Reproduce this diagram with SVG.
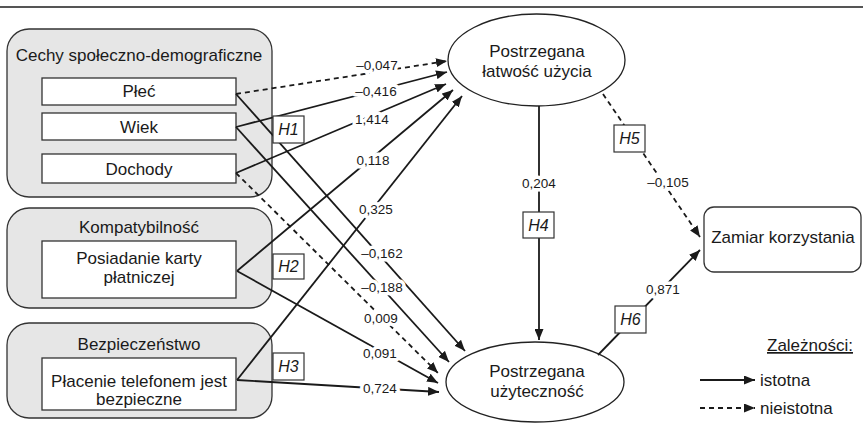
<svg xmlns="http://www.w3.org/2000/svg" width="863" height="425" viewBox="0 0 863 425">
<style>
text{font-family:"Liberation Sans",Arial,sans-serif;fill:#1a1a1a}
.t{font-size:17px;text-anchor:middle}
.lbl{font-size:13.5px;text-anchor:middle;stroke:#fff;stroke-width:7;paint-order:stroke;stroke-linejoin:round}
.h{font-size:16px;font-style:italic;text-anchor:middle}
.grp{fill:#e6e6e6;stroke:#333;stroke-width:1.3}
.box{fill:#fff;stroke:#333;stroke-width:1.3}
.hb{fill:#fff;stroke:#333;stroke-width:1.2}
.ell{fill:#fff;stroke:#222;stroke-width:1.3}
.s{fill:none;stroke:#1a1a1a;stroke-width:1.8;marker-end:url(#ah)}
.d{fill:none;stroke:#1a1a1a;stroke-width:1.8;stroke-dasharray:5,4;marker-end:url(#ah)}
</style>
<defs>
<marker id="ah" markerUnits="userSpaceOnUse" markerWidth="12" markerHeight="9" refX="11" refY="4.5" orient="auto">
<path d="M0,0 L11,4.5 L0,9 z" fill="#1a1a1a"/>
</marker>
</defs>
<rect width="863" height="425" fill="#fff"/>
<line x1="0" y1="7" x2="863" y2="7" stroke="#555" stroke-width="2"/>

<g id="grp-cechy">
<rect class="grp" x="7" y="29" width="265" height="168" rx="22"/>
<text class="t" x="139" y="61">Cechy społeczno-demograficzne</text>
</g>
<g id="plec"><rect class="box" x="42" y="78" width="194" height="27"/><text class="t" x="139" y="97">Płeć</text></g>
<g id="wiek"><rect class="box" x="42" y="113" width="194" height="27"/><text class="t" x="139" y="133">Wiek</text></g>
<g id="dochody"><rect class="box" x="42" y="154" width="194" height="29"/><text class="t" x="139" y="175">Dochody</text></g>

<g id="grp-kompatybilnosc">
<rect class="grp" x="7" y="208" width="265" height="100" rx="22"/>
<text class="t" x="139" y="233">Kompatybilność</text>
</g>
<g id="karta"><rect class="box" x="42" y="241" width="194" height="57"/><text class="t" x="139" y="264">Posiadanie karty</text><text class="t" x="139" y="283">płatniczej</text></g>

<g id="grp-bezpieczenstwo">
<rect class="grp" x="7" y="323" width="265" height="95" rx="22"/>
<text class="t" x="139" y="350">Bezpieczeństwo</text>
</g>
<g id="telefon"><rect class="box" x="42" y="358" width="194" height="52"/><text class="t" x="139" y="387">Płacenie telefonem jest</text><text class="t" x="139" y="405">bezpieczne</text></g>

<g id="latwosc"><ellipse class="ell" cx="536.5" cy="60" rx="88.5" ry="46"/><text class="t" x="537" y="57">Postrzegana</text><text class="t" x="537" y="77">łatwość użycia</text></g>
<g id="uzytecznosc"><ellipse class="ell" cx="535" cy="382" rx="89" ry="40"/><text class="t" x="537" y="377">Postrzegana</text><text class="t" x="537" y="397">użyteczność</text></g>
<g id="zamiar"><rect class="box" x="704" y="207" width="157" height="65" rx="10"/><text class="t" x="783" y="243">Zamiar korzystania</text></g>

<g id="connectors">
<path class="d" d="M236,94 L447,61"/>
<path class="s" d="M236,127 L447,72"/>
<path class="s" d="M236,173 L446,84"/>
<path class="s" d="M237,271 L453,90"/>
<path class="s" d="M237,380 L462,96"/>
<path class="s" d="M236,94 L465,351"/>
<path class="s" d="M236,127 L449,362"/>
<path class="d" d="M236,173 L438,373"/>
<path class="s" d="M237,271 L438,383"/>
<path class="s" d="M237,380 L439,392"/>
<path class="s" d="M539,106 L539,340"/>
<path class="d" d="M603,94 L700,237"/>
<path class="s" d="M598,355 L700,250"/>
<text class="lbl" x="377" y="70">–0,047</text>
<text class="lbl" x="376" y="96">–0,416</text>
<text class="lbl" x="372" y="124">1,414</text>
<text class="lbl" x="373" y="165">0,118</text>
<text class="lbl" x="376" y="214">0,325</text>
<text class="lbl" x="382" y="258">–0,162</text>
<text class="lbl" x="382" y="292">–0,188</text>
<text class="lbl" x="381" y="323">0,009</text>
<text class="lbl" x="380" y="358">0,091</text>
<text class="lbl" x="380" y="393">0,724</text>
<text class="lbl" x="539" y="188">0,204</text>
<text class="lbl" x="668" y="187">–0,105</text>
<text class="lbl" x="663" y="294">0,871</text>
</g>

<g id="h1"><rect class="hb" x="273" y="116" width="31" height="27"/><text class="h" x="288.5" y="135">H1</text></g>
<g id="h2"><rect class="hb" x="273" y="254" width="31" height="25"/><text class="h" x="288.5" y="272">H2</text></g>
<g id="h3"><rect class="hb" x="273" y="353" width="31" height="27"/><text class="h" x="288.5" y="372">H3</text></g>
<g id="h4"><rect class="hb" x="523" y="212" width="31" height="26"/><text class="h" x="538.5" y="231">H4</text></g>
<g id="h5"><rect class="hb" x="614" y="125" width="31" height="27"/><text class="h" x="629.5" y="144">H5</text></g>
<g id="h6"><rect class="hb" x="615" y="306" width="31" height="27"/><text class="h" x="630.5" y="325">H6</text></g>

<g id="legend">
<text x="767" y="351" style="font-size:17px;text-decoration:underline">Zależności:</text>
<path class="s" d="M700,380 L755,380"/>
<text x="760" y="386" style="font-size:17px">istotna</text>
<path class="d" d="M700,408 L755,408"/>
<text x="760" y="414" style="font-size:17px">nieistotna</text>
</g>
</svg>
